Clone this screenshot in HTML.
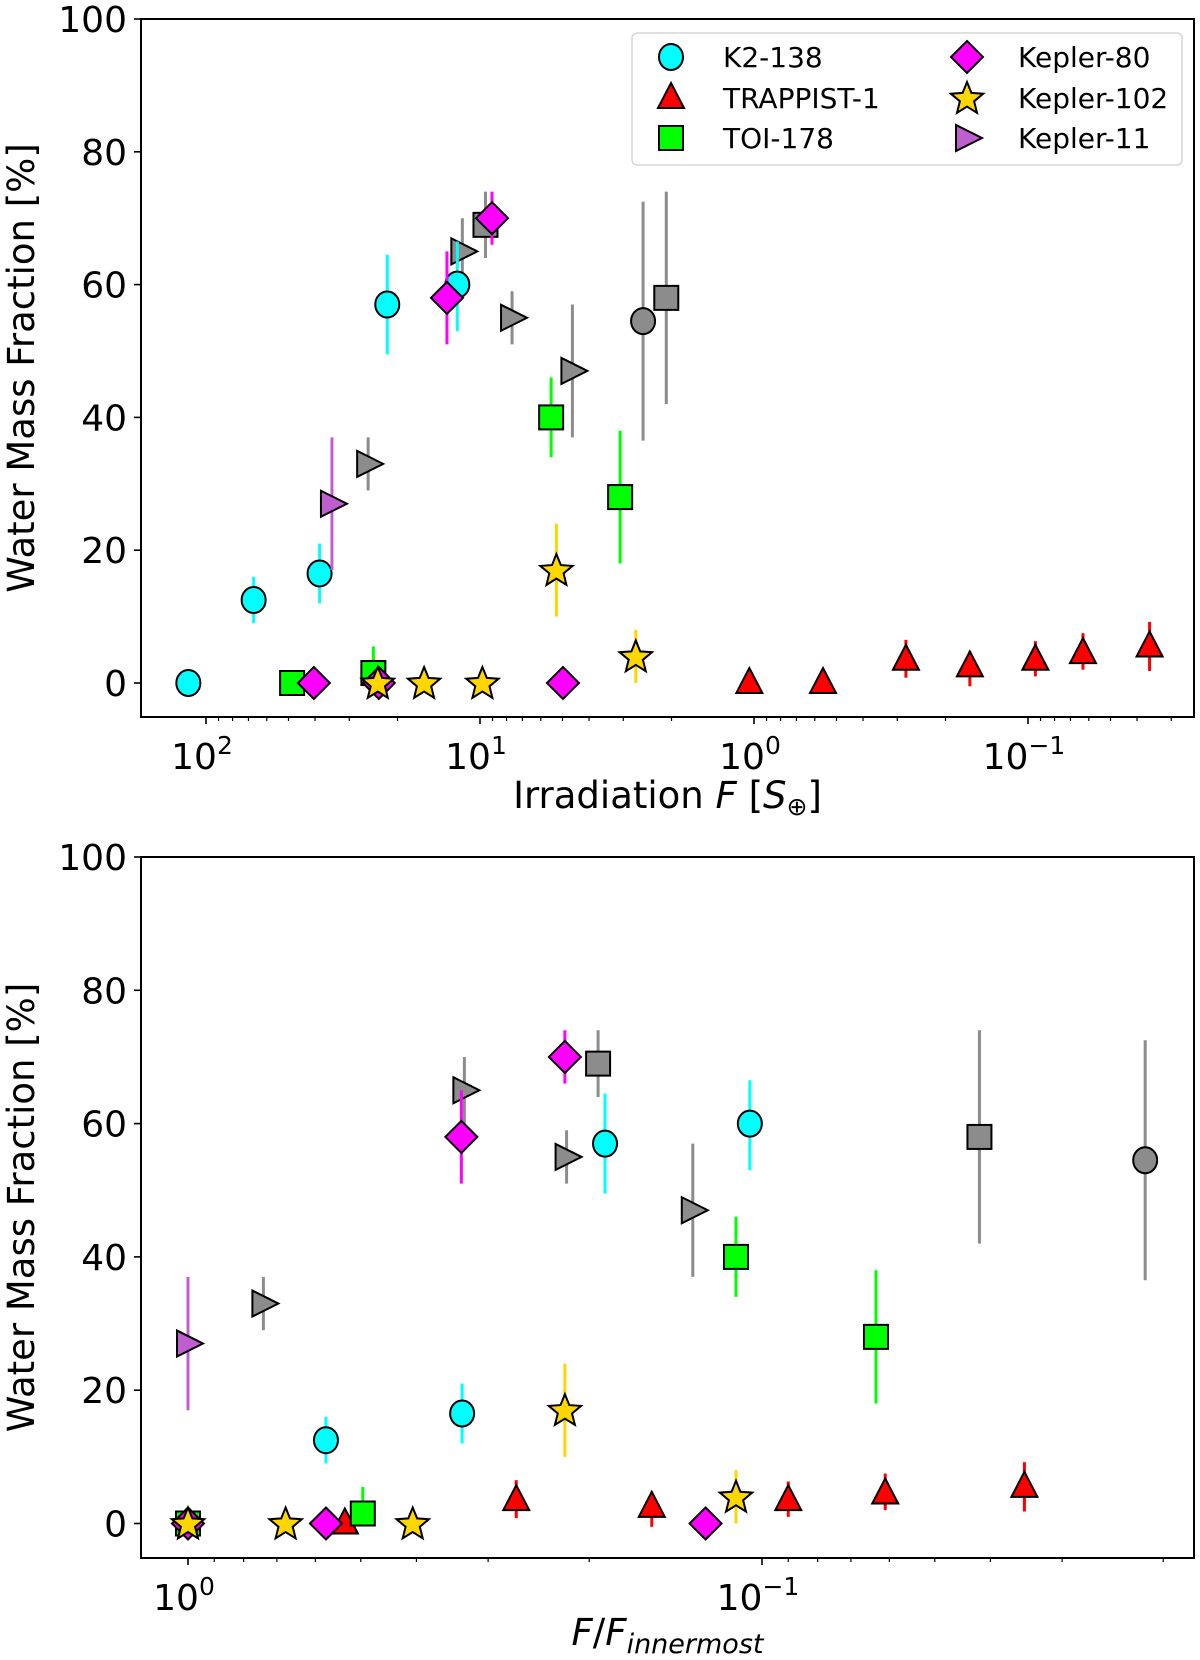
<!DOCTYPE html>
<html><head><meta charset="utf-8">
<style>
body{margin:0;background:#fff;}
svg{display:block;font-family:"DejaVu Sans","Liberation Sans",sans-serif;}
</style></head>
<body>
<svg id="fig" width="1200" height="1660" viewBox="0 0 1200 1660" xmlns="http://www.w3.org/2000/svg"></svg>
<script>
// ---------- TOP PANEL DATA (Irradiation F [S_earth]) ----------
const topK2F=[116,67,38.5,21.8,12.1];
const topK2W=[0,12.5,16.5,57,60];
const topK2Lo=[0,9,12,49.5,53];
const topK2Hi=[0,16,21,64.5,66.5];
const topTrF=[1.04,0.56,0.279,0.163,0.094,0.063,0.036];
const topTrW=[0,0,3.5,2.5,3.5,4.5,5.5];
const topTrLo=[0,0,0.8,-0.5,1,2,1.8];
const topTrHi=[0,0,6.5,4.8,6.3,7.5,9.2];
const topToiF=[48.5,24.5,5.5,3.08];
const topToiW=[0,1.5,40,28];
const topToiLo=[0,0,34,18];
const topToiHi=[0,5.5,46,38];
const topK80F=[40.4,23.4,13.2,9.04,4.98];
const topK80W=[0,0,58,70,0];
const topK80Lo=[0,0,51,66,0];
const topK80Hi=[0,0,65,74,0];
const topK102F=[23.6,16,9.8,5.26,2.7];
const topK102W=[0,0,0,17,4];
const topK102Lo=[0,0,0,10,0];
const topK102Hi=[0,0,0,24,8];
const topK11F=[34.7];
const topK11W=[27];
const topK11Lo=[17];
const topK11Hi=[37];
const topGrayTriF=[25.6,11.6,7.64,4.6];
const topGrayTriW=[33,65,55,47];
const topGrayTriLo=[29,60,51,37];
const topGrayTriHi=[37,70,59,57];
const topGraySqF=[9.55,2.09];
const topGraySqW=[69,58];
const topGraySqLo=[64,42];
const topGraySqHi=[74,74];
const topGrayCircF=[2.54];
const topGrayCircW=[54.5];
const topGrayCircLo=[36.5];
const topGrayCircHi=[72.5];

// ---------- BOTTOM PANEL DATA (F / F_innermost) ----------
const botK2R=[0.575,0.333,0.1877,0.105];
const botK2W=[12.5,16.5,57,60];
const botK2Lo=[9,12,49.5,53];
const botK2Hi=[16,21,64.5,66.5];
const botTrR=[0.533,0.268,0.1556,0.090,0.061,0.0349];
const botTrW=[0,3.5,2.5,3.5,4.5,5.5];
const botTrLo=[0,0.8,-0.5,1,2,1.8];
const botTrHi=[0,6.5,4.8,6.3,7.5,9.2];
const botToiR=[1,0.496,0.111,0.0633];
const botToiW=[0,1.5,40,28];
const botToiLo=[0,0,34,18];
const botToiHi=[0,5.5,46,38];
const botK80R=[1,0.575,0.334,0.2205,0.1254];
const botK80W=[0,0,58,70,0];
const botK80Lo=[0,0,51,66,0];
const botK80Hi=[0,0,65,74,0];
const botK102R=[1,0.676,0.406,0.2205,0.111];
const botK102W=[0,0,0,17,4];
const botK102Lo=[0,0,0,10,0];
const botK102Hi=[0,0,0,24,8];
const botK11R=[1];
const botK11W=[27];
const botK11Lo=[17];
const botK11Hi=[37];
const botGrayTriR=[0.739,0.33,0.219,0.132];
const botGrayTriW=[33,65,55,47];
const botGrayTriLo=[29,60,51,37];
const botGrayTriHi=[37,70,59,57];
const botGraySqR=[0.193,0.0418];
const botGraySqW=[69,58];
const botGraySqLo=[64,42];
const botGraySqHi=[74,74];
const botGrayCircR=[0.0215];
const botGrayCircW=[54.5];
const botGrayCircLo=[36.5];
const botGrayCircHi=[72.5];

const yTicks=[0,20,40,60,80,100];
const legendLabels=["K2-138","TRAPPIST-1","TOI-178","Kepler-80","Kepler-102","Kepler-11"];

const NS="http://www.w3.org/2000/svg";
const svg=document.getElementById('fig');
function mk(tag,attrs,parent){const e=document.createElementNS(NS,tag);for(const k in attrs)e.setAttribute(k,attrs[k]);(parent||svg).appendChild(e);return e;}

const L=141,R=1194;
const pTop={x0:754,dec:274,y0:683,ys:6.64,t:19,b:717};
const pBot={x0:188,dec:574,y0:1523.5,ys:6.665,t:857,b:1558};
function X(p,v){return p.x0-p.dec*Math.log10(v);}
function Y(p,v){return p.y0-p.ys*v;}

const COL={cyan:'#00ffff',red:'#ff0000',green:'#00ff00',mag:'#ff00ff',gold:'#ffd700',purp:'#bf5fcf',gray:'#8c8c8c'};

function marker(g,type,cx,cy,fill,name){
  let e;
  const st={fill:fill,stroke:'#000','stroke-width':2};
  if(type==='o'){e=mk('ellipse',Object.assign({cx:cx,cy:cy,rx:12,ry:13},st),g);}
  else if(type==='s'){e=mk('rect',Object.assign({x:cx-12,y:cy-12,width:24,height:24},st),g);}
  else if(type==='^'){e=mk('polygon',Object.assign({points:`${cx},${cy-15} ${cx+13},${cy+10} ${cx-13},${cy+10}`},st),g);}
  else if(type==='D'){e=mk('polygon',Object.assign({points:`${cx},${cy-16} ${cx+16},${cy} ${cx},${cy+16} ${cx-16},${cy}`},st),g);}
  else if(type==='>'){e=mk('polygon',Object.assign({points:`${cx+15},${cy} ${cx-11},${cy-13} ${cx-11},${cy+13}`},st),g);}
  else {let pts=[];for(let i=0;i<10;i++){const r=i%2?7.5:17;const a=-Math.PI/2+i*Math.PI/5;pts.push((cx+r*Math.cos(a)).toFixed(1)+','+(cy+r*Math.sin(a)+1).toFixed(1));}
    e=mk('polygon',Object.assign({points:pts.join(' ')},st),g);}
  
  
  return e;
}

function series(p,xs,ws,lo,hi,type,fill,ecol,name){
  const g=mk('g',{});
  
  
  for(let i=0;i<xs.length;i++){
    const cx=X(p,xs[i]);
    if(hi[i]!==lo[i]){
      const l=mk('line',{x1:cx,x2:cx,y1:Y(p,lo[i]),y2:Y(p,hi[i]),stroke:ecol,'stroke-width':3},g);
      
      
    }
  }
  for(let i=0;i<xs.length;i++){
    marker(g,type,X(p,xs[i]),Y(p,ws[i]),fill,name+'-point');
  }
}

function axes(p,minorVals,majors,majorLabels,xtitle,xtitleY,pname){
  const g=mk('g',{});
  
  
  const fr=mk('rect',{x:L,y:p.t,width:R-L,height:p.b-p.t,fill:'none',stroke:'#000','stroke-width':2},g);
  
  
  yTicks.forEach(v=>{
    const y=Y(p,v);
    mk('line',{x1:L-7,x2:L,y1:y,y2:y,stroke:'#000','stroke-width':1.6},g);
    const t=mk('text',{x:L-14,y:y+13,'text-anchor':'end','font-size':36},g);
    t.textContent=v;
    
    
  });
  minorVals.forEach(v=>{const x=X(p,v);if(x>L&&x<R)mk('line',{x1:x,x2:x,y1:p.b,y2:p.b+4,stroke:'#000','stroke-width':1.2},g);});
  majors.forEach((v,i)=>{
    const x=X(p,v);
    mk('line',{x1:x,x2:x,y1:p.b,y2:p.b+7,stroke:'#000','stroke-width':1.6},g);
    const t=mk('text',{x:x-4,y:p.b+52,'text-anchor':'middle','font-size':36},g);
    
    
    t.textContent='10';
    const s=mk('tspan',{dy:-15,'font-size':25},t);s.textContent=majorLabels[i];
  });
  const yt=mk('text',{x:0,y:0,'text-anchor':'middle','font-size':37,transform:`translate(34,${(p.t+p.b)/2}) rotate(-90)`},g);
  yt.textContent='Water Mass Fraction [%]';
  
  
  const xt=mk('text',{x:(L+R)/2,y:xtitleY,'text-anchor':'middle','font-size':37},g);
  
  
  xtitle.forEach(part=>{const s=mk('tspan',part.a||{},xt);s.textContent=part.t;});
}

const topMinor=[],botMinor=[];
[100,10,1,0.1,0.01].forEach(d=>{for(let k=2;k<10;k++)topMinor.push(d*k);});
[1,0.1,0.01].forEach(d=>{for(let k=2;k<10;k++)botMinor.push(d*k);});

axes(pTop,topMinor,[100,10,1,0.1],['2','1','0','\u22121'],
  [{t:'Irradiation '},{t:'F',a:{'font-style':'italic'}},{t:' ['},{t:'S',a:{'font-style':'italic'}},{t:'\u2295',a:{'font-size':25,dy:7}},{t:']',a:{dy:-7}}],808,'top');
axes(pBot,botMinor,[1,0.1],['0','\u22121'],
  [{t:'F',a:{'font-style':'italic'}},{t:'/'},{t:'F',a:{'font-style':'italic'}},{t:'innermost',a:{'font-style':'italic','font-size':27,dy:8}}],1645,'bottom');

// top series
series(pTop,topGrayCircF,topGrayCircW,topGrayCircLo,topGrayCircHi,'o',COL.gray,COL.gray,'top-gray-circle');
series(pTop,topGraySqF,topGraySqW,topGraySqLo,topGraySqHi,'s',COL.gray,COL.gray,'top-gray-square');
series(pTop,topGrayTriF,topGrayTriW,topGrayTriLo,topGrayTriHi,'>',COL.gray,COL.gray,'top-gray-triangle');
series(pTop,topK2F,topK2W,topK2Lo,topK2Hi,'o',COL.cyan,COL.cyan,'top-k2-138');
series(pTop,topTrF,topTrW,topTrLo,topTrHi,'^',COL.red,COL.red,'top-trappist-1');
series(pTop,topToiF,topToiW,topToiLo,topToiHi,'s',COL.green,COL.green,'top-toi-178');
series(pTop,topK80F,topK80W,topK80Lo,topK80Hi,'D',COL.mag,COL.mag,'top-kepler-80');
series(pTop,topK102F,topK102W,topK102Lo,topK102Hi,'*',COL.gold,COL.gold,'top-kepler-102');
series(pTop,topK11F,topK11W,topK11Lo,topK11Hi,'>',COL.purp,COL.purp,'top-kepler-11');

// bottom series
series(pBot,botGrayCircR,botGrayCircW,botGrayCircLo,botGrayCircHi,'o',COL.gray,COL.gray,'bottom-gray-circle');
series(pBot,botGraySqR,botGraySqW,botGraySqLo,botGraySqHi,'s',COL.gray,COL.gray,'bottom-gray-square');
series(pBot,botGrayTriR,botGrayTriW,botGrayTriLo,botGrayTriHi,'>',COL.gray,COL.gray,'bottom-gray-triangle');
series(pBot,botK2R,botK2W,botK2Lo,botK2Hi,'o',COL.cyan,COL.cyan,'bottom-k2-138');
series(pBot,botTrR,botTrW,botTrLo,botTrHi,'^',COL.red,COL.red,'bottom-trappist-1');
series(pBot,botToiR,botToiW,botToiLo,botToiHi,'s',COL.green,COL.green,'bottom-toi-178');
series(pBot,botK80R,botK80W,botK80Lo,botK80Hi,'D',COL.mag,COL.mag,'bottom-kepler-80');
series(pBot,botK102R,botK102W,botK102Lo,botK102Hi,'*',COL.gold,COL.gold,'bottom-kepler-102');
series(pBot,botK11R,botK11W,botK11Lo,botK11Hi,'>',COL.purp,COL.purp,'bottom-kepler-11');

// legend
const lg=mk('g',{});


const lb=mk('rect',{x:632,y:33,width:550,height:132,rx:5,fill:'#fff','fill-opacity':0.85,stroke:'#d5d5d5','stroke-width':1.5},lg);


const lTypes=['o','^','s','D','*','>'];
const lCols=[COL.cyan,COL.red,COL.green,COL.mag,COL.gold,COL.purp];
const rowsY=[57,98,138];
legendLabels.forEach((lab,i)=>{
  const col=Math.floor(i/3),row=i%3;
  const mx=col?967:671, tx=col?1018:723, y=rowsY[row];
  const eg=mk('g',{},lg);
  
  
  marker(eg,lTypes[i],mx,y,lCols[i],'legend-marker');
  const t=mk('text',{x:tx,y:y+10,'font-size':28},eg);
  t.textContent=lab;
  
  
});
</script>
</body></html>
